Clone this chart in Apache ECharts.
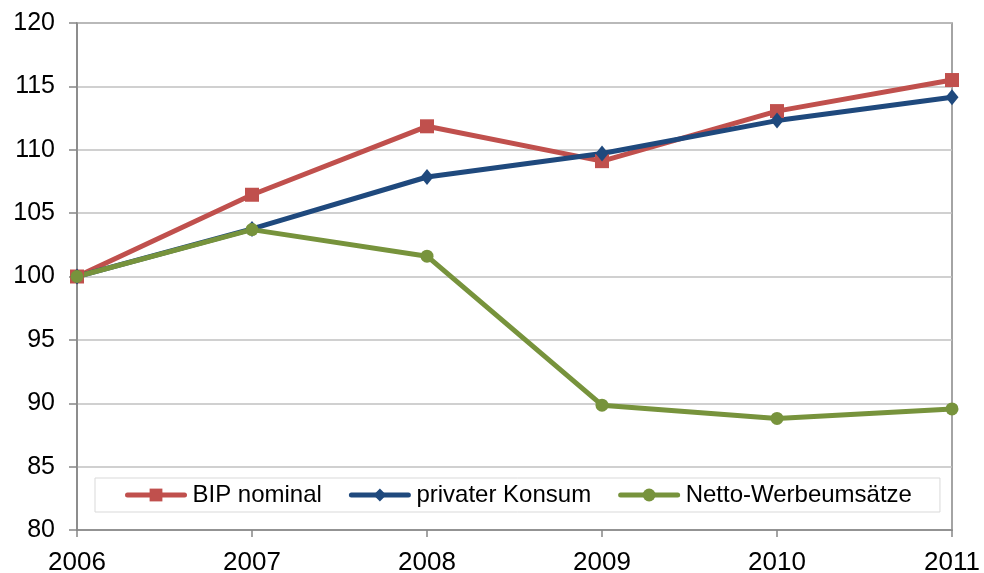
<!DOCTYPE html>
<html>
<head>
<meta charset="utf-8">
<style>
html,body{margin:0;padding:0;background:#fff;}
#chart{width:984px;height:573px;}
</style>
<script src="https://cdn.jsdelivr.net/npm/echarts@6/dist/echarts.min.js"></script>
</head>
<body>
<div id="chart"></div>
<script>
const years = ['2006', '2007', '2008', '2009', '2010', '2011'];
const bipNominal = [100, 106.45, 111.85, 109.1, 113.05, 115.5];
const privaterKonsum = [100, 103.75, 107.85, 109.7, 112.3, 114.15];
const nettoWerbeumsaetze = [100, 103.7, 101.6, 89.85, 88.8, 89.55];
const seriesNames = ['BIP nominal', 'privater Konsum', 'Netto-Werbeumsätze'];

const FONT = '"Liberation Sans", Arial, sans-serif';
const chart = echarts.init(document.getElementById('chart'), null, {renderer: 'canvas'});

function lineSeries(name, data, color, symbol, size) {
  return {
    name: name,
    type: 'line',
    data: data,
    symbol: symbol,
    symbolSize: size,
    showAllSymbol: true,
    lineStyle: {color: color, width: 5},
    itemStyle: {color: color, borderWidth: 0},
    emphasis: {disabled: true},
    animation: false
  };
}

chart.setOption({
  animation: false,
  grid: {
    left: 77, right: 32, top: 23, bottom: 43,
    outerBoundsMode: 'none', containLabel: false,
    show: true, borderColor: '#868686', borderWidth: 1.5, backgroundColor: 'transparent'
  },
  legend: {
    data: seriesNames,
    left: 95, top: 478,
    padding: [5, 28, 5, 30],
    itemGap: 27,
    itemWidth: 57, itemHeight: 16,
    backgroundColor: '#fff',
    borderColor: '#D9D9D9', borderWidth: 1,
    lineStyle: {width: 5, cap: 'round'},
    textStyle: {fontFamily: FONT, fontSize: 24, color: '#000', padding: [0, 0, 0, 3]}
  },
  xAxis: {
    type: 'category',
    data: years,
    boundaryGap: false,
    axisLine: {lineStyle: {color: '#868686', width: 1.5}},
    axisTick: {show: true, length: 7, inside: false, alignWithLabel: true, lineStyle: {color: '#868686', width: 1.5}},
    axisLabel: {fontFamily: FONT, fontSize: 26, color: '#000', margin: 20, showMinLabel: true, showMaxLabel: true, interval: 0},
    splitLine: {show: false}
  },
  yAxis: {
    type: 'value',
    min: 80, max: 120, interval: 5,
    axisLine: {show: true, lineStyle: {color: '#868686', width: 1.5}},
    axisTick: {show: true, length: 8, lineStyle: {color: '#868686', width: 1.5}},
    axisLabel: {fontFamily: FONT, fontSize: 25, color: '#000', margin: 22},
    splitLine: {show: true, lineStyle: {color: '#C0C0C0', width: 1.5}}
  },
  series: [
    lineSeries(seriesNames[0], bipNominal, '#C0504D', 'rect', 14),
    lineSeries(seriesNames[1], privaterKonsum, '#1F497D', 'diamond', [13, 16]),
    lineSeries(seriesNames[2], nettoWerbeumsaetze, '#77933C', 'circle', 13)
  ]
});
</script>
</body>
</html>
